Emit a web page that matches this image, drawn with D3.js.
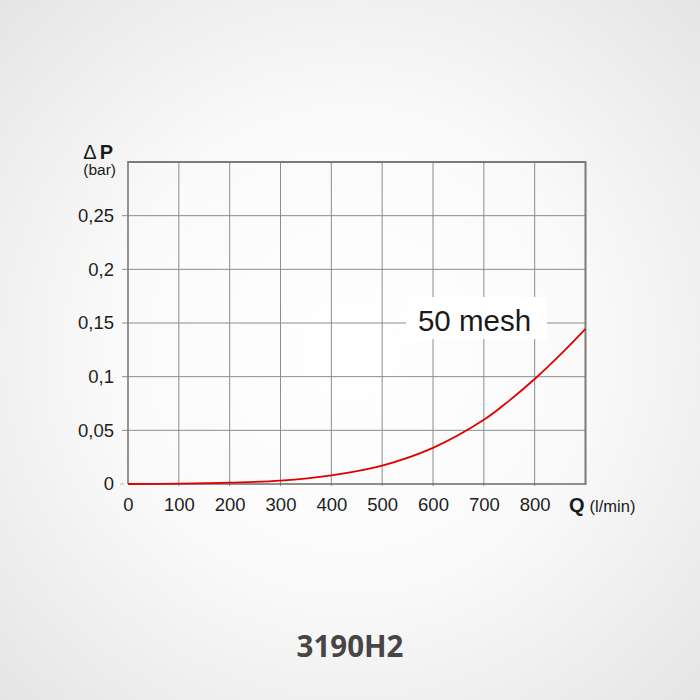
<!DOCTYPE html>
<html><head><meta charset="utf-8">
<script src="https://cdn.jsdelivr.net/npm/d3@7"></script>
<style>html,body{margin:0;padding:0;background:#fff;}svg{display:block;}</style>
</head><body>
<svg id="c" width="700" height="700"></svg>
<script>
const flows = [0,100,200,300,400,500,600,700,750,800,850,900];
const deltaP = [0,0.0004,0.0013,0.0031,0.0081,0.0172,0.0337,0.0598,0.0777,0.0978,0.1203,0.1446];
const xTicks = [0,100,200,300,400,500,600,700,800];
const xGrid = [100,200,300,400,500,600,700,800];
const yTicks = [0,0.05,0.1,0.15,0.2,0.25];
const yLabels = ["0","0,05","0,1","0,15","0,2","0,25"];
const seriesName = "50 mesh";
const title = "3190H2";

const svg = d3.select("#c");
const defs = svg.append("defs");
const rg = defs.append("radialGradient").attr("id","bg").attr("gradientUnits","userSpaceOnUse")
  .attr("cx",350).attr("cy",350).attr("r",520);
rg.append("stop").attr("offset","0%").attr("stop-color","#ffffff");
rg.append("stop").attr("offset","45%").attr("stop-color","#fafafa");
rg.append("stop").attr("offset","100%").attr("stop-color","#e3e3e3");
svg.append("rect").attr("width",700).attr("height",700).attr("fill","url(#bg)");

const L=128,R=585.5,T=162,B=484;
const x = d3.scaleLinear().domain([0,900]).range([L,R]);
const y = d3.scaleLinear().domain([0,0.3]).range([B,T]);
const FONT = "'Liberation Sans', Arial, sans-serif";

// grid
const g = svg.append("g");
g.selectAll(".hg").data(yTicks.filter(d=>d>0)).join("line")
  .attr("x1",L-6).attr("x2",R).attr("y1",d=>y(d)).attr("y2",d=>y(d))
  .attr("stroke","#8c8c8c").attr("stroke-width",1);
g.selectAll(".vg").data(xGrid).join("line")
  .attr("x1",d=>x(d)).attr("x2",d=>x(d)).attr("y1",T).attr("y2",B+2)
  .attr("stroke","#8c8c8c").attr("stroke-width",1);
g.append("line").attr("x1",L-8).attr("x2",L-4).attr("y1",y(0)).attr("y2",y(0))
  .attr("stroke","#bbb").attr("stroke-width",1);

// frame
g.append("line").attr("x1",L).attr("x2",R).attr("y1",T).attr("y2",T).attr("stroke","#7a7a7a").attr("stroke-width",2);
g.append("line").attr("x1",R).attr("x2",R).attr("y1",T-1).attr("y2",B).attr("stroke","#7a7a7a").attr("stroke-width",2);
g.append("line").attr("x1",L).attr("x2",L).attr("y1",T-1).attr("y2",B).attr("stroke","#7a7a7a").attr("stroke-width",1.6);
g.append("line").attr("x1",L).attr("x2",R+1).attr("y1",B).attr("y2",B).attr("stroke","#6a6a6a").attr("stroke-width",1.6);

// axes labels
const yAxis = d3.axisLeft(y).tickValues(yTicks).tickFormat((d,i)=>yLabels[i]).tickSize(0).tickPadding(14);
const ya = svg.append("g").attr("transform",`translate(${L},0)`).call(yAxis);
ya.select(".domain").remove();
ya.selectAll("text").attr("font-family",FONT).attr("font-size",18.5).attr("fill","#1e1e1e");

const xAxis = d3.axisBottom(x).tickValues(xTicks).tickSize(0).tickPadding(14);
const xa = svg.append("g").attr("transform",`translate(0,${B})`).call(xAxis);
xa.select(".domain").remove();
xa.selectAll("text").attr("font-family",FONT).attr("font-size",18.5).attr("fill","#1e1e1e");

// curve
const pts = flows.map((f,i)=>[f,deltaP[i]]);
svg.append("path").datum(pts)
  .attr("d", d3.line().x(d=>x(d[0])).y(d=>y(d[1])).curve(d3.curveCatmullRom.alpha(0.5)))
  .attr("fill","none").attr("stroke","#e10000").attr("stroke-width",1.8);

// series label with white box
svg.append("rect").attr("x",406).attr("y",297).attr("width",141).attr("height",42).attr("fill","#fff");
svg.append("text").attr("x",474.5).attr("y",330.5).attr("text-anchor","middle")
  .attr("font-family",FONT).attr("font-size",29.5).attr("fill","#1a1a1a")
  .text(seriesName);

// axis titles
const yt = svg.append("text").attr("x",113).attr("y",158.5).attr("text-anchor","end")
  .attr("font-family",FONT).attr("fill","#1a1a1a");
yt.append("tspan").attr("font-size",20).text("\u0394");
yt.append("tspan").attr("font-size",20).attr("font-weight","bold").attr("dx",3).text("P");
svg.append("text").attr("x",116).attr("y",175).attr("text-anchor","end")
  .attr("font-family",FONT).attr("font-size",15.5).attr("fill","#1a1a1a").text("(bar)");

const xt = svg.append("text").attr("x",569).attr("y",512)
  .attr("font-family",FONT).attr("fill","#1a1a1a");
xt.append("tspan").attr("font-size",20).attr("font-weight","bold").text("Q");
xt.append("tspan").attr("font-size",16.5).attr("dx",5).text("(l/min)");

// title
svg.append("text").attr("x",350).attr("y",656.5).attr("text-anchor","middle")
  .attr("font-family","'Open Sans', sans-serif").attr("font-weight","bold").attr("font-size",29.5)
  .attr("fill","#464646").text(title);
</script>
</body></html>
